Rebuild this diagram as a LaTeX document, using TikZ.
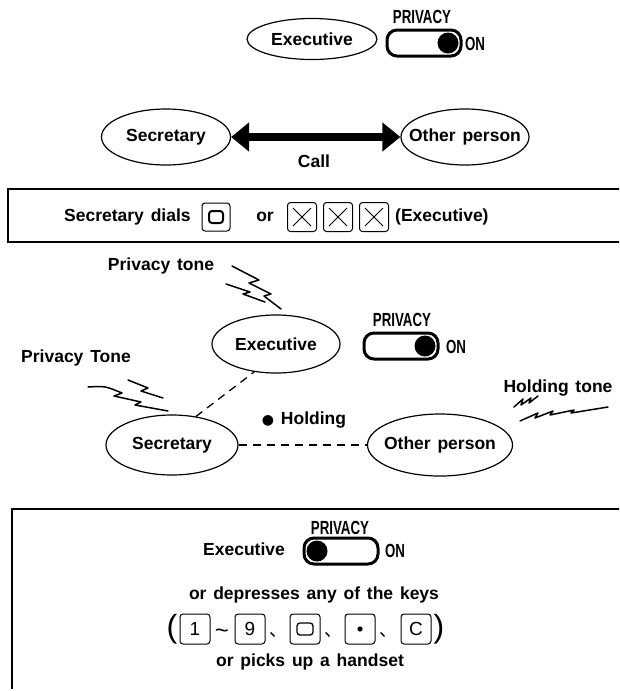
\documentclass[tikz,border=0pt]{standalone}
\usepackage{fontspec}
\setmainfont[WordSpace=1.4]{Liberation Sans}
\newfontfamily\condfont[FakeStretch=0.7]{Liberation Sans}
\newfontfamily\cjkfont{Noto Sans CJK JP}
\newfontfamily\djvfont{DejaVu Sans}
\usetikzlibrary{shapes.geometric,arrows.meta}
\newcommand{\zw}[1]{\makebox[0pt]{#1}}
\tikzset{
  pics/toggle/.style={code={
    \draw[line width=3pt, rounded corners=10pt] (-37,-13) rectangle (37,13);
    \fill (#1,0) circle (10.5pt);
  }}
}
\begin{document}
\begin{tikzpicture}[x=1pt,y=-1pt,
  person/.style={draw, ellipse, line width=1.2pt, inner sep=0pt, font=\bfseries\fontsize{17.5}{20}\selectfont},
  lbl/.style={inner sep=0pt, font=\bfseries\fontsize{17.5}{20}\selectfont},
  cond/.style={inner sep=0pt, font=\condfont\bfseries\fontsize{19}{20}\selectfont},
  keybox/.style={draw, rounded corners=3pt, line width=1pt, inner sep=0pt, minimum width=#1, minimum height=#1, font=\fontsize{19}{20}\selectfont},
  frame/.style={line width=1.5pt},
  dashcon/.style={line width=1.3pt, dash pattern=on 8pt off 6pt},
  tone/.style={line width=1.5pt, line join=round, line cap=round},
  sep/.style={inner sep=0pt, font=\cjkfont\fontsize{18}{20}\selectfont},
  paren/.style={inner sep=0pt, font=\fontsize{32}{34}\selectfont},
]
\useasboundingbox (0,0) rectangle (619,691);
\clip (0,0) rectangle (619,691);

% ---------- top: call ----------
\node[person, minimum width=130pt, minimum height=41pt] (exec1) at (312,39) {\zw{Executive}};
\pic at (424,43) {toggle=24};
\node[cond] (priv1) at (422,17) {PRIVACY};
\node[cond] (on1) at (475,44) {ON};

\node[person, minimum width=129pt, minimum height=56pt] (sec1) at (166,137) {\zw{Secretary}};
\node[person, minimum width=128pt, minimum height=56pt] (oth1) at (465,137) {\zw{Other person}};
\draw[line width=8pt, {Triangle[length=18pt,width=28pt]}-{Triangle[length=18pt,width=28pt]}] (sec1) -- (oth1);
\node[lbl] (call) at (314,161) {Call};

% ---------- box 1 ----------
\draw[frame] (8,189) rectangle (630,242);
\node[lbl, anchor=west] (sd) at (64,217) {Secretary dials};
\node[keybox=28pt] (k0) at (216,217) {};
\draw[line width=2pt, rounded corners=3pt] ([shift={(-7,-6)}]k0.center) rectangle ([shift={(7,6)}]k0.center);
\node[lbl] (or1) at (265,217) {or};
\node[keybox=29pt] (x1) at (302,217) {};
\node[keybox=29pt] (x2) at (338,217) {};
\node[keybox=29pt] (x3) at (374,217) {};
\foreach \k in {x1,x2,x3}{
  \draw[line width=0.8pt] ([shift={(-9,-9)}]\k.center) -- ([shift={(9,9)}]\k.center)
                          ([shift={(-9,9)}]\k.center) -- ([shift={(9,-9)}]\k.center);
}
\node[lbl, anchor=west] (exe) at (395,217) {(Executive)};

% ---------- middle: privacy ----------
\node[lbl] (pt1) at (161,266) {Privacy tone};
\draw[tone] (232,266) -- (259,280) -- (249,283) -- (271,294) -- (264,296) -- (281,309);
\draw[tone] (226,284) -- (250,292) -- (243,294) -- (265,302);

\node[person, minimum width=128pt, minimum height=58pt] (exec2) at (276,344) {\zw{Executive}};
\pic at (401,346) {toggle=24};
\node[cond] (priv2) at (402,320) {PRIVACY};
\node[cond] (on2) at (456,347) {ON};

\node[lbl] (pt2) at (76,358) {Privacy Tone};
\draw[tone] (88,387) .. controls (105,386) .. (122,393) -- (114,396) -- (141,402) -- (135,405) -- (168,411);
\draw[tone] (128,380) -- (148,388) -- (141,391) -- (163,398);

\node[person, minimum width=132pt, minimum height=60pt] (sec2) at (172,445) {\zw{Secretary}};
\node[person, minimum width=145pt, minimum height=62pt] (oth2) at (440,445) {\zw{Other person}};
\draw[dashcon] (sec2.50) -- (exec2.232);
\draw[dashcon] (sec2) -- (oth2);
\node[lbl] (hold) at (304,420) {{\djvfont\fontsize{14}{14}\selectfont ●}\ Holding};

\node[lbl] (ht) at (558,388) {Holding tone};
\draw[tone] (514,407) -- (523,399) -- (521,405) -- (531,398) -- (529,403) -- (538,396);
\draw[tone] (520,421) -- (538,413) -- (535,418) -- (553,411) -- (550,415) -- (574,410) -- (571,413) -- (608,407);

% ---------- box 2 ----------
\draw[frame] (12,689) -- (12,509) -- (630,509);
\node[cond] (priv3) at (340,528) {PRIVACY};
\node[lbl] (exe3) at (244,549) {Executive};
\pic at (341,551) {toggle=-24};
\node[cond] (on3) at (395,551) {ON};
\node[lbl] (dep) at (314,595) {or depresses any of the keys};

\node[paren] (lp) at (172,629) {(};
\node[keybox=30pt] (k1) at (195,629) {1};
\node[inner sep=0pt, font=\fontsize{24}{24}\selectfont] (til) at (222,634) {\~{}};
\node[keybox=30pt] (k9) at (250,629) {9};
\node[sep] (c1) at (278,635) {、};
\node[keybox=30pt] (kz) at (305,629) {};
\draw[line width=1.3pt, rounded corners=3pt] ([shift={(-8,-6)}]kz.center) rectangle ([shift={(8,6)}]kz.center);
\node[sep] (c2) at (333,635) {、};
\node[keybox=30pt] (kd) at (360,629) {};
\fill (kd.center) circle (2.6pt);
\node[sep] (c3) at (388,635) {、};
\node[keybox=30pt] (kc) at (416,629) {C};
\node[paren] (rp) at (439,629) {)};

\node[lbl] (hs) at (310,662) {or picks up a handset};
\end{tikzpicture}
\end{document}
